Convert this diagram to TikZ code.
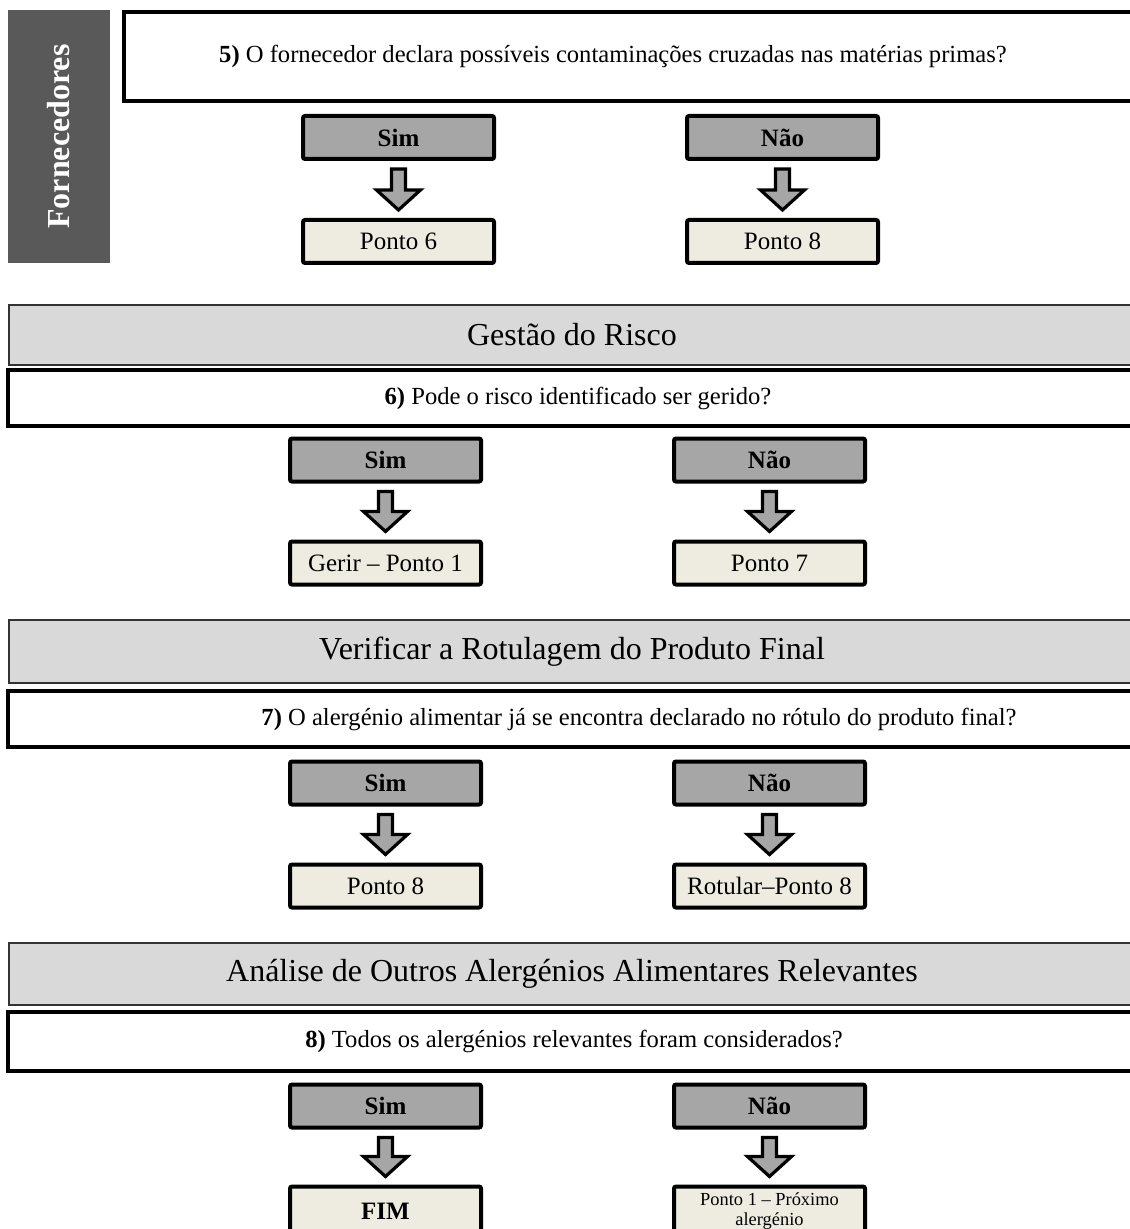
\documentclass[tikz,border=0pt]{standalone}
\usepackage{fontspec}
\setmainfont{Liberation Serif}
\usetikzlibrary{positioning,calc}
\definecolor{hdrgray}{HTML}{D9D9D9}
\definecolor{ansgray}{HTML}{A6A6A6}
\definecolor{resbeige}{HTML}{EEECE1}
\definecolor{sidegray}{HTML}{595959}
\tikzset{
  hdr/.style={draw=black!80, line width=0.8pt, fill=hdrgray, minimum width=563pt, inner sep=0pt, font=\fontsize{16}{19}\selectfont},
  qbox/.style={draw, line width=2pt, fill=white, inner sep=0pt},
  qtext/.style={inner sep=0pt, font=\fontsize{12.3}{15}\selectfont},
  ans/.style={draw, line width=2pt, rounded corners=1pt, fill=ansgray, minimum width=95.5pt, minimum height=21.5pt, inner sep=0pt, font=\bfseries\fontsize{12.5}{15}\selectfont},
  res/.style={ans, fill=resbeige, font=\fontsize{12.5}{15}\selectfont},
  side/.style={fill=sidegray, text=white, minimum width=126.5pt, minimum height=51pt, inner sep=0pt, font=\bfseries\fontsize{16}{19}\selectfont},
  darr/.style={draw, line width=1.6pt, fill=ansgray, line join=miter}
}
\newcommand{\blockarrow}[2]{%
  \draw[darr] ($(#1.south)+(-7,8)$) -- ($(#2.north)+(-7,-28)$) -- ($(#2.north)+(-22,-28)$)
    -- ($(#2.north)+(0,-8)$) -- ($(#2.north)+(22,-28)$) -- ($(#2.north)+(7,-28)$)
    -- ($(#1.south)+(7,8)$) -- cycle;}

\begin{document}
\begin{tikzpicture}[x=0.5pt, y=-0.5pt]
  \useasboundingbox (0,0) rectangle (1129,1229);

  \node[side, rotate=90] (forn) at (59,136.5) {Fornecedores};
  \node[qbox, minimum width=505pt, minimum height=44.5pt] (q5) at (629,56.5) {};
  \node[qtext] (t5) at (613,0 |- q5) {\textbf{5)} O fornecedor declara possíveis contaminações cruzadas nas matérias primas?};
  \node[ans] (s5) at (398.5,137.5) {Sim};
  \node[ans, right=94.5pt of s5] (n5) {Não};
  \node[res, below=28.5pt of s5] (r5a) {Ponto 6};
  \node[res, below=28.5pt of n5] (r5b) {Ponto 8};

  \node[hdr, minimum height=30pt] (h6) at (572,335) {Gestão do Risco};
  \node[qbox, minimum width=563pt, minimum height=28pt] (q6) at (571,398) {};
  \node[qtext] (t6) at (578,0 |- q6) {\textbf{6)} Pode o risco identificado ser gerido?};
  \node[ans] (s6) at (385.5,460) {Sim};
  \node[ans, right=94.5pt of s6] (n6) {Não};
  \node[res, below=28pt of s6] (r6a) {Gerir -- Ponto 1};
  \node[res, below=28pt of n6] (r6b) {Ponto 7};

  \node[hdr, minimum height=31.5pt] (h7) at (572,651.5) {Verificar a Rotulagem do Produto Final};
  \node[qbox, minimum width=563pt, minimum height=28pt] (q7) at (571,719) {};
  \node[qtext] (t7) at (639,0 |- q7) {\textbf{7)} O alergénio alimentar já se encontra declarado no rótulo do produto final?};
  \node[ans] (s7) at (385.5,783) {Sim};
  \node[ans, right=94.5pt of s7] (n7) {Não};
  \node[res, below=28pt of s7] (r7a) {Ponto 8};
  \node[res, below=28pt of n7] (r7b) {Rotular--Ponto 8};

  \node[hdr, minimum height=31pt] (h8) at (572,974) {Análise de Outros Alergénios Alimentares Relevantes};
  \node[qbox, minimum width=563pt, minimum height=29.5pt] (q8) at (571,1041.5) {};
  \node[qtext] (t8) at (574,0 |- q8) {\textbf{8)} Todos os alergénios relevantes foram considerados?};
  \node[ans] (s8) at (385.5,1106) {Sim};
  \node[ans, right=94.5pt of s8] (n8) {Não};
  \node[res, below=27.5pt of s8, minimum height=24.5pt, font=\bfseries\fontsize{12.5}{15}\selectfont] (r8a) {FIM};
  \node[res, below=27.5pt of n8, minimum height=24.5pt, align=center, font=\fontsize{9.2}{10}\selectfont] (r8b) {Ponto 1 -- Próximo\\alergénio};

  \foreach \a/\b in {s5/r5a, n5/r5b, s6/r6a, n6/r6b, s7/r7a, n7/r7b, s8/r8a, n8/r8b}
    \blockarrow{\a}{\b};
\end{tikzpicture}
\end{document}
